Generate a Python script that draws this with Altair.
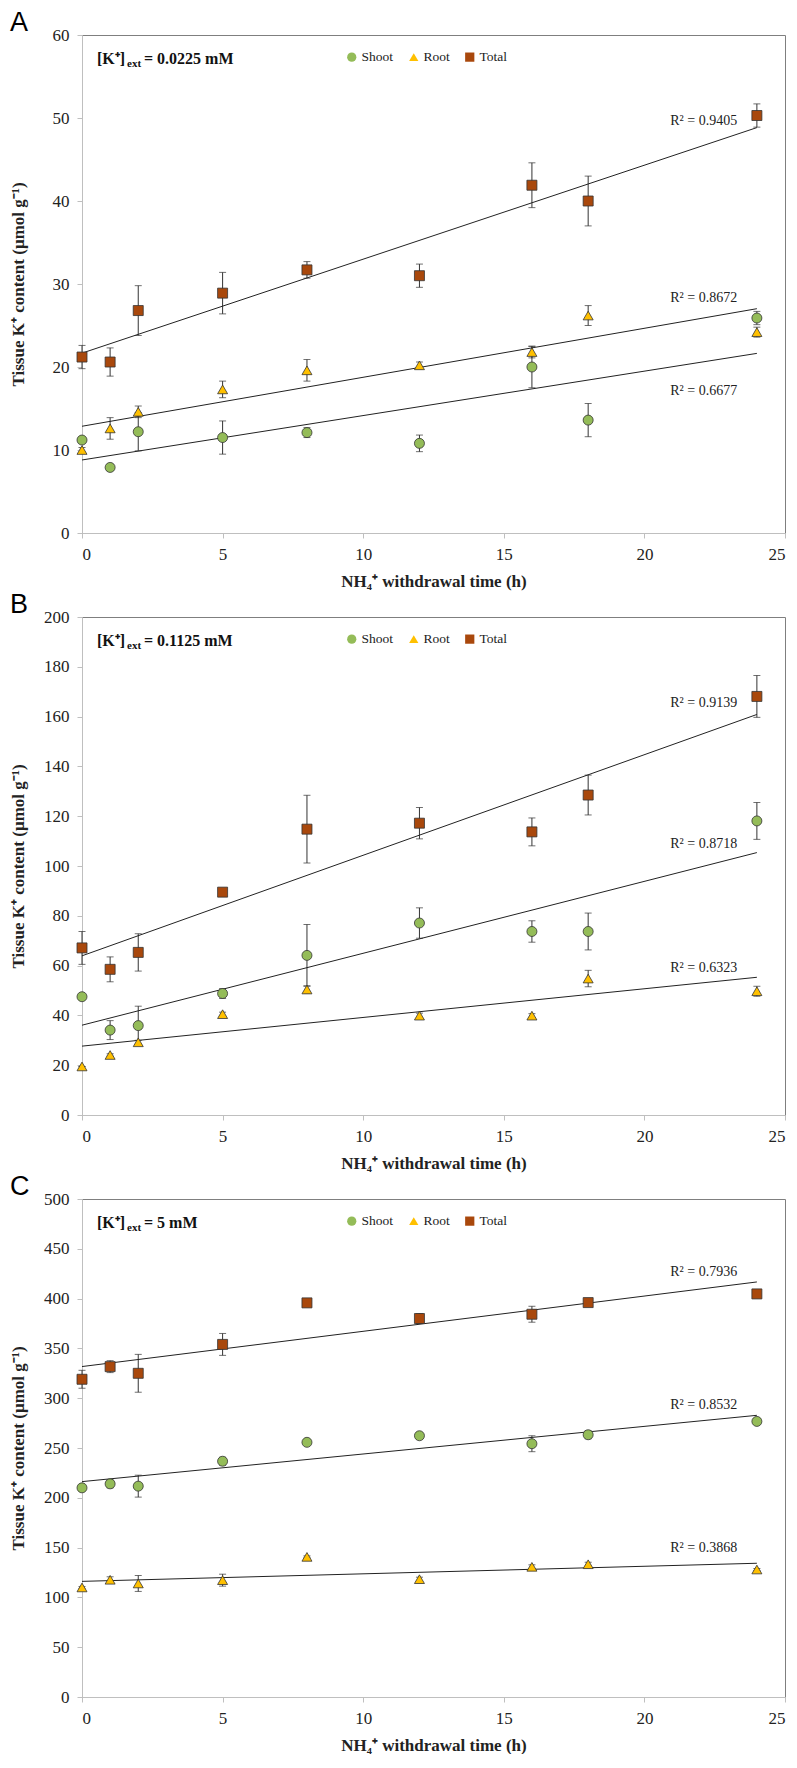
import altair as alt
import pandas as pd

time_h = [0, 1, 2, 5, 8, 12, 16, 18, 24]
series_names = ["Shoot", "Root", "Total"]
series_colors = ["#94BC58", "#FFC000", "#A9480C"]
series_shapes = ["circle", "triangle-up", "square"]

# Panel A  ([K+]ext = 0.0225 mM)
shoot_A = [11.2, 7.9, 12.2, 11.5, 12.1, 10.8, 20.0, 13.6, 25.9]
shoot_A_err = [0.4, 0.4, 2.3, 2.0, 0.6, 1.0, 2.5, 2.0, 0.8]
root_A = [10.0, 12.6, 14.6, 17.3, 19.6, 20.2, 21.8, 26.2, 24.2]
root_A_err = [0.3, 1.3, 0.7, 1.0, 1.3, 0.4, 0.7, 1.2, 0.6]
total_A = [21.2, 20.6, 26.8, 28.9, 31.7, 31.0, 41.9, 40.0, 50.3]
total_A_err = [1.4, 1.7, 3.0, 2.5, 1.0, 1.4, 2.7, 3.0, 1.4]
r2_A_text = ["R² = 0.9405", "R² = 0.8672", "R² = 0.6677"]
r2_A_y = [49.6, 28.3, 17.1]

# Panel B  ([K+]ext = 0.1125 mM)
shoot_B = [47.5, 34.1, 35.9, 48.8, 64.1, 77.1, 73.7, 73.7, 118.1]
shoot_B_err = [0.0, 3.8, 7.8, 2.0, 12.4, 6.1, 4.3, 7.4, 7.4]
root_B = [19.5, 24.1, 29.2, 40.5, 50.4, 39.9, 39.9, 54.8, 49.7]
root_B_err = [0.0, 0.5, 0.8, 0.8, 1.5, 1.0, 0.8, 3.3, 2.0]
total_B = [67.1, 58.5, 65.3, 89.5, 114.8, 117.2, 113.7, 128.5, 168.1]
total_B_err = [6.6, 5.0, 7.5, 0.5, 13.6, 6.3, 5.6, 8.0, 8.4]
r2_B_text = ["R² = 0.9139", "R² = 0.8718", "R² = 0.6323"]
r2_B_y = [165.6, 108.8, 59.1]

# Panel C  ([K+]ext = 5 mM)
shoot_C = [210.0, 214.0, 211.7, 236.7, 255.7, 262.3, 254.3, 263.3, 276.7]
shoot_C_err = [2, 4, 11, 4, 1, 2, 8, 4, 1]
root_C = [110.0, 117.7, 114.0, 117.3, 140.7, 118.3, 130.7, 133.3, 128.0]
root_C_err = [1, 3, 8, 6, 1, 2, 2, 2, 1]
total_C = [319.0, 331.7, 325.0, 354.0, 395.7, 380.0, 384.3, 396.0, 404.7]
total_C_err = [9, 6, 19, 11, 1, 5, 8, 3, 1]
r2_C_text = ["R² = 0.7936", "R² = 0.8532", "R² = 0.3868"]
r2_C_y = [426.7, 293.3, 150.0]

r2_x = 23.3
x_ticks = [0, 5, 10, 15, 20, 25]

panels = [
    dict(letter="A", conc="= 0.0225 mM", ymax=60, ystep=10,
         vals=[shoot_A, root_A, total_A], errs=[shoot_A_err, root_A_err, total_A_err],
         r2t=r2_A_text, r2y=r2_A_y),
    dict(letter="B", conc="= 0.1125 mM", ymax=200, ystep=20,
         vals=[shoot_B, root_B, total_B], errs=[shoot_B_err, root_B_err, total_B_err],
         r2t=r2_B_text, r2y=r2_B_y),
    dict(letter="C", conc="= 5 mM", ymax=500, ystep=50,
         vals=[shoot_C, root_C, total_C], errs=[shoot_C_err, root_C_err, total_C_err],
         r2t=r2_C_text, r2y=r2_C_y),
]

W, H = 703, 498
SERIF = "Liberation Serif"


def make_panel(p):
    rows = []
    for name, vals, errs in zip(series_names, p["vals"], p["errs"]):
        for t, v, e in zip(time_h, vals, errs):
            rows.append(dict(time=t, series=name, value=v, lo=v - e, hi=v + e))
    df = pd.DataFrame(rows)
    r2df = pd.DataFrame(dict(rx=[r2_x] * 3, ry=p["r2y"], label=p["r2t"]))

    xscale = alt.Scale(domain=[0, 25], nice=False)
    yscale = alt.Scale(domain=[0, p["ymax"]], nice=False)
    xaxis = alt.Axis(values=x_ticks, title="NH₄⁺ withdrawal time (h)",
                     titleY=48, titleBaseline="middle")
    yaxis = alt.Axis(values=list(range(0, p["ymax"] + 1, p["ystep"])),
                     title="Tissue K⁺ content (µmol g⁻¹)",
                     titleX=-64, titleY=H / 2, titleBaseline="middle", titleAngle=-90)

    def X(f):
        return alt.X(f, scale=xscale, axis=xaxis)

    def Y(f):
        return alt.Y(f, scale=yscale, axis=yaxis)

    base = alt.Chart(df)
    rules = base.mark_rule(color="#333333", strokeWidth=1).encode(
        x=X("time:Q"), y=Y("lo:Q"), y2="hi:Q")
    cap_hi = base.mark_tick(orient="horizontal", color="#333333", size=7, thickness=1).encode(
        x=X("time:Q"), y=Y("hi:Q"))
    cap_lo = base.mark_tick(orient="horizontal", color="#333333", size=7, thickness=1).encode(
        x=X("time:Q"), y=Y("lo:Q"))
    trend = base.transform_regression("time", "value", groupby=["series"]).mark_line(
        color="#222222", strokeWidth=1).encode(x=X("time:Q"), y=Y("value:Q"), detail="series:N")

    leg = alt.Legend(orient="none", legendX=263, legendY=15, direction="horizontal",
                     title=None, labelFont=SERIF, labelFontSize=13.5, labelColor="#222",
                     symbolSize=85, columnPadding=13, labelOffset=3, padding=0,
                     symbolStrokeColor="#333333", symbolStrokeWidth=0.8)
    pts = base.mark_point(filled=True, size=100, stroke="#333333", strokeWidth=0.8,
                          opacity=1).encode(
        x=X("time:Q"), y=Y("value:Q"),
        shape=alt.Shape("series:N", scale=alt.Scale(domain=series_names, range=series_shapes),
                        legend=leg),
        fill=alt.Fill("series:N", scale=alt.Scale(domain=series_names, range=series_colors),
                      legend=leg),
    )
    r2 = alt.Chart(r2df).mark_text(font=SERIF, fontSize=14, align="right",
                                   baseline="middle", color="#222").encode(
        x=X("rx:Q"), y=Y("ry:Q"), text="label:N")

    tdf = pd.DataFrame(dict(a=["[K⁺]"], b=["ext"], c=[p["conc"]], l=[p["letter"]]))
    tb = alt.Chart(tdf)
    t1 = tb.mark_text(font=SERIF, fontSize=16, fontWeight="bold", align="left",
                      baseline="middle", color="#111").encode(
        x=alt.value(15), y=alt.value(24), text="a:N")
    t2 = tb.mark_text(font=SERIF, fontSize=11, fontWeight="bold", align="left",
                      baseline="middle", color="#111").encode(
        x=alt.value(45), y=alt.value(29), text="b:N")
    t3 = tb.mark_text(font=SERIF, fontSize=16, fontWeight="bold", align="left",
                      baseline="middle", color="#111").encode(
        x=alt.value(62), y=alt.value(24), text="c:N")
    letter = tb.mark_text(font="Liberation Sans", fontSize=27, align="left",
                          baseline="alphabetic", color="#000").encode(
        x=alt.value(-72), y=alt.value(-4), text="l:N")

    return alt.layer(rules, cap_hi, cap_lo, trend, pts, r2, t1, t2, t3, letter).properties(
        width=W, height=H)


chart = alt.vconcat(*[make_panel(p) for p in panels], spacing=0).resolve_scale(
    x="independent", y="independent", shape="independent", fill="independent"
).resolve_legend(shape="independent", fill="independent").configure_view(
    stroke="#7f7f7f", strokeWidth=1
).configure_axis(
    grid=False, domainColor="#bfbfbf", tickColor="#bfbfbf", tickSize=5,
    labelFont=SERIF, labelFontSize=17, labelColor="#222", labelPadding=8,
    titleFont=SERIF, titleFontSize=17, titleFontWeight="bold", titleColor="#222",
).properties(padding=0, background="white")

chart.save("out.html", embed_options={"renderer": "svg", "actions": False})
